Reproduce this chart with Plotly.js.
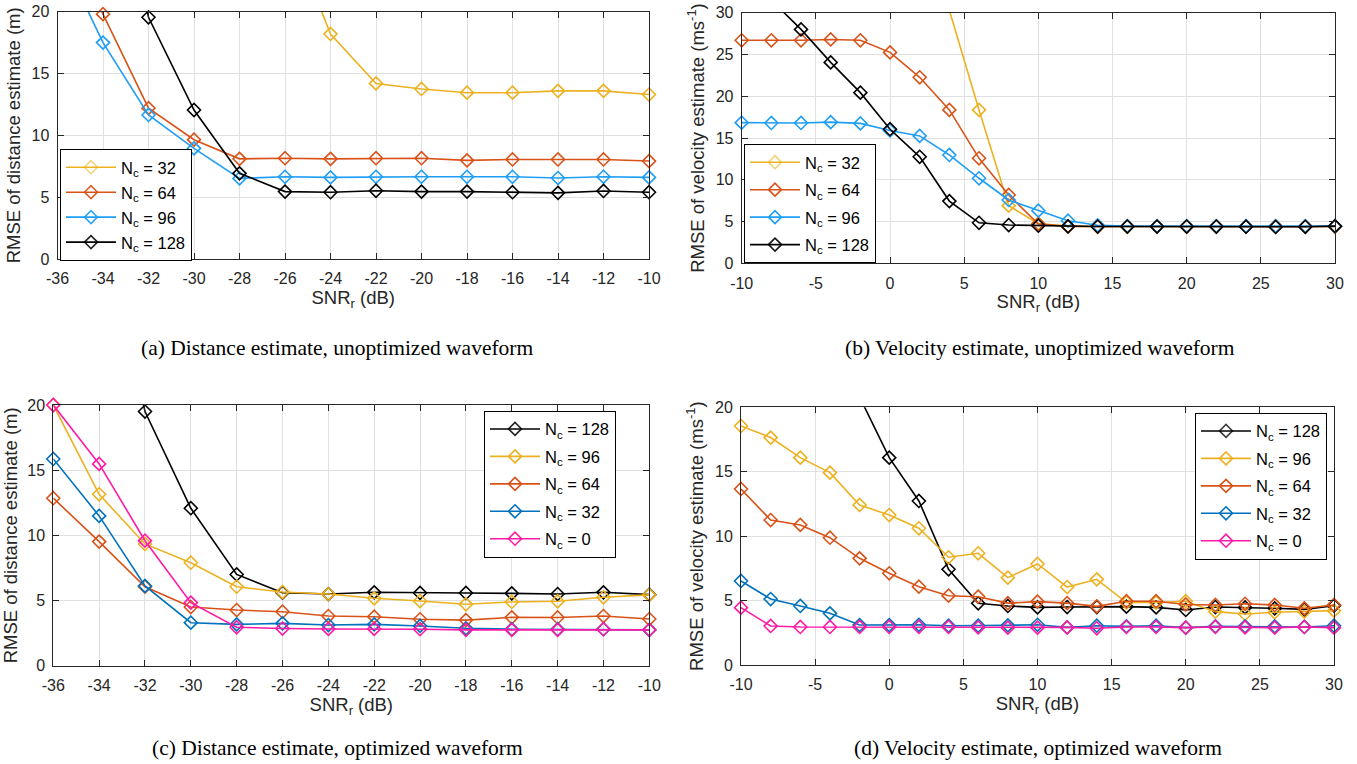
<!DOCTYPE html>
<html>
<head>
<meta charset="utf-8">
<script src="https://cdn.plot.ly/plotly-3.0.1.min.js"></script>
<style>
html,body{margin:0;padding:0;background:#ffffff;}
#chart{width:1357px;height:764px;}
</style>
</head>
<body>
<div id="chart"></div>
<script>
// ---------- data ----------
// SNR axes (dB)
const snrDist = [-36,-34,-32,-30,-28,-26,-24,-22,-20,-18,-16,-14,-12,-10];
const snrVel  = [-10,-8,-6,-4,-2,0,2,4,6,8,10,12,14,16,18,20,22,24,26,28,30];

// tick values / labels
const distTickVals = [-36,-34,-32,-30,-28,-26,-24,-22,-20,-18,-16,-14,-12,-10];
const distTickText = ['-36','-34','-32','-30','-28','-26','-24','-22','-20','-18','-16','-14','-12','-10'];
const velTickVals  = [-10,-5,0,5,10,15,20,25,30];
const velTickText  = ['-10','-5','0','5','10','15','20','25','30'];
const y20TickVals  = [0,5,10,15,20];
const y30TickVals  = [0,5,10,15,20,25,30];

// (a) distance, unoptimized waveform
const a_nc32  = [null,null,null,null,null,27.5,18.2,14.2,13.75,13.45,13.45,13.6,13.6,13.3];
const a_nc64  = [28,19.8,12.2,9.65,8.1,8.15,8.1,8.15,8.15,7.98,8.05,8.05,8.05,7.92];
const a_nc96  = [25.2,17.5,11.65,8.95,6.52,6.65,6.6,6.65,6.65,6.65,6.65,6.55,6.65,6.6];
const a_nc128 = [null,36,19.55,12.05,6.93,5.45,5.4,5.52,5.45,5.45,5.4,5.35,5.5,5.4];

// (b) velocity, unoptimized waveform
const b_nc32  = [null,null,null,null,null,null,40,30.3,18.36,6.9,4.75,4.45,4.4,4.4,4.4,4.4,4.4,4.4,4.4,4.4,4.4];
const b_nc64  = [26.7,26.7,26.7,26.8,26.7,25.25,22.27,18.36,12.57,8.18,4.7,4.42,4.4,4.4,4.4,4.4,4.4,4.4,4.4,4.4,4.4];
const b_nc96  = [16.84,16.8,16.8,16.9,16.75,15.9,15.25,12.97,10.18,7.58,6.3,5.1,4.55,4.45,4.45,4.45,4.45,4.45,4.45,4.45,4.45];
const b_nc128 = [35,31.5,28.0,24.05,20.43,16.05,12.75,7.45,4.85,4.58,4.5,4.42,4.4,4.4,4.4,4.4,4.4,4.38,4.35,4.37,4.45];

// (c) distance, optimized waveform
const c_nc128 = [null,36,19.5,12.08,7.0,5.6,5.5,5.63,5.58,5.58,5.55,5.5,5.63,5.45];
const c_nc96  = [20.0,13.15,9.34,7.9,6.06,5.65,5.5,5.17,4.96,4.71,4.89,4.94,5.25,5.43];
const c_nc64  = [12.85,9.52,6.06,4.5,4.27,4.14,3.81,3.76,3.56,3.5,3.71,3.7,3.81,3.58];
const c_nc32  = [15.86,11.49,6.12,3.3,3.17,3.25,3.12,3.17,3.05,2.87,2.8,2.8,2.8,2.75];
const c_nc0   = [20.0,15.48,9.59,4.84,2.95,2.85,2.82,2.82,2.8,2.75,2.75,2.75,2.8,2.75];

// (d) velocity, optimized waveform
const d_nc128 = [null,null,null,26,20.8,16.09,12.73,7.43,4.79,4.58,4.47,4.5,4.5,4.53,4.47,4.27,4.5,4.47,4.4,4.32,4.6];
const d_nc96  = [18.55,17.65,16.09,14.93,12.42,11.64,10.61,8.36,8.67,6.78,7.84,6.05,6.65,4.85,4.85,4.95,4.14,3.96,4.09,4.14,4.22];
const d_nc64  = [13.66,11.25,10.87,9.88,8.28,7.12,6.08,5.38,5.3,4.8,4.92,4.8,4.55,4.95,4.95,4.7,4.66,4.75,4.66,4.4,4.66];
const d_nc32  = [6.52,5.12,4.58,4.01,3.1,3.1,3.12,3.05,3.05,3.08,3.12,2.92,3.05,3.0,3.05,2.9,3.0,3.0,3.0,2.95,3.05];
const d_nc0   = [4.45,3.03,2.95,2.95,2.95,2.95,2.95,2.95,2.92,2.9,2.9,2.92,2.85,2.95,2.95,2.9,2.95,2.92,2.9,2.95,2.9];

const names = {n128:'N<sub>c</sub> = 128', n96:'N<sub>c</sub> = 96', n64:'N<sub>c</sub> = 64', n32:'N<sub>c</sub> = 32', n0:'N<sub>c</sub> = 0'};
const captions = ['(a) Distance estimate, unoptimized waveform','(b) Velocity estimate, unoptimized waveform',
                  '(c) Distance estimate, optimized waveform','(d) Velocity estimate, optimized waveform'];

// ---------- styles ----------
const COL = {yellow:'#EDB120', orange:'#D95319', lblue:'#1F9EF5', blue:'#0072BD', black:'#000000', pink:'#FF1AA6'};
const SANS = 'Liberation Sans, Arial, Helvetica, sans-serif';
const SERIF = 'Liberation Serif, Times New Roman, serif';
const AX = '#262626';

function tr(x, y, name, color, xa, ya, leg, ymax, grp) {
  return {
    type:'scatter', mode:'lines+markers', x:x, y:y, name:name,
    xaxis:xa, yaxis:ya, legend:leg, legendgroup:grp,
    line:{color:color, width:1.6},
    marker:{symbol:'diamond-open', size:10, color:color, line:{color:color, width:1.6},
            opacity:y.map(v => (v === null || v > ymax) ? 0 : 1)},
    cliponaxis:false, connectgaps:false, hoverinfo:'skip'
  };
}

const traces = [
  tr(snrDist,a_nc32,names.n32,COL.yellow,'x','y','legend',20,'a1'),
  tr(snrDist,a_nc64,names.n64,COL.orange,'x','y','legend',20,'a2'),
  tr(snrDist,a_nc96,names.n96,COL.lblue,'x','y','legend',20,'a3'),
  tr(snrDist,a_nc128,names.n128,COL.black,'x','y','legend',20,'a4'),

  tr(snrVel,b_nc32,names.n32,COL.yellow,'x2','y2','legend2',30,'b1'),
  tr(snrVel,b_nc64,names.n64,COL.orange,'x2','y2','legend2',30,'b2'),
  tr(snrVel,b_nc96,names.n96,COL.lblue,'x2','y2','legend2',30,'b3'),
  tr(snrVel,b_nc128,names.n128,COL.black,'x2','y2','legend2',30,'b4'),

  tr(snrDist,c_nc128,names.n128,COL.black,'x3','y3','legend3',20,'c1'),
  tr(snrDist,c_nc96,names.n96,COL.yellow,'x3','y3','legend3',20,'c2'),
  tr(snrDist,c_nc64,names.n64,COL.orange,'x3','y3','legend3',20,'c3'),
  tr(snrDist,c_nc32,names.n32,COL.blue,'x3','y3','legend3',20,'c4'),
  tr(snrDist,c_nc0,names.n0,COL.pink,'x3','y3','legend3',20,'c5'),

  tr(snrVel,d_nc128,names.n128,COL.black,'x4','y4','legend4',20,'d1'),
  tr(snrVel,d_nc96,names.n96,COL.yellow,'x4','y4','legend4',20,'d2'),
  tr(snrVel,d_nc64,names.n64,COL.orange,'x4','y4','legend4',20,'d3'),
  tr(snrVel,d_nc32,names.n32,COL.blue,'x4','y4','legend4',20,'d4'),
  tr(snrVel,d_nc0,names.n0,COL.pink,'x4','y4','legend4',20,'d5')
];

const W = 1357, H = 764;
function px(x){ return x / W; }
function py(y){ return 1 - y / H; }

function axis(dom, anchor, range, vals, text, title, isX) {
  return {
    domain:dom, anchor:anchor, range:range,
    tickmode:'array', tickvals:vals, ticktext:text,
    showline:true, mirror:'ticks', linecolor:AX, linewidth:1,
    ticks:'inside', ticklen:6, tickcolor:AX, tickwidth:1,
    showgrid:true, gridcolor:'#e0e0e0', gridwidth:1, zeroline:false,
    tickfont:{family:SANS, size:16, color:AX},
    ticklabelstandoff: isX ? 5 : 4,
    title:{text:title, font:{family:SANS, size:18.5, color:AX}, standoff: isX ? 4 : 6},
    fixedrange:true, automargin:false
  };
}

const snrTitle = 'SNR<sub>r</sub> (dB)';
const distTitle = 'RMSE of distance estimate (m)';
const velTitle = 'RMSE of velocity estimate (ms<sup>-1</sup>)';

function legend(x, y, gap) {
  return {x:x, y:y, xanchor:'left', yanchor:'top', xref:'paper', yref:'paper',
          bgcolor:'#ffffff', bordercolor:'#000000', borderwidth:1,
          font:{family:SANS, size:16.5, color:'#000000'},
          tracegroupgap:gap, itemwidth:50, traceorder:'grouped'};
}

const layout = {
  width:W, height:H, margin:{l:0,r:0,t:0,b:0},
  paper_bgcolor:'#ffffff', plot_bgcolor:'#ffffff', showlegend:true,
  font:{family:SANS, color:AX},
  xaxis: axis([px(57.5),px(649)], 'y', [-36,-10], distTickVals, distTickText, snrTitle, true),
  yaxis: axis([py(259),py(11.7)], 'x', [0,20], y20TickVals, y20TickVals.map(String), distTitle, false),
  xaxis2: axis([px(741.7),px(1335)], 'y2', [-10,30], velTickVals, velTickText, snrTitle, true),
  yaxis2: axis([py(263.3),py(12.7)], 'x2', [0,30], y30TickVals, y30TickVals.map(String), velTitle, false),
  xaxis3: axis([px(53.3),px(649.3)], 'y3', [-36,-10], distTickVals, distTickText, snrTitle, true),
  yaxis3: axis([py(665.7),py(405)], 'x3', [0,20], y20TickVals, y20TickVals.map(String), distTitle, false),
  xaxis4: axis([px(741),px(1334)], 'y4', [-10,30], velTickVals, velTickText, snrTitle, true),
  yaxis4: axis([py(665),py(407.3)], 'x4', [0,20], y20TickVals, y20TickVals.map(String), velTitle, false),
  legend: legend(px(60), py(149), 0.5),
  legend2: legend(px(744), py(144), 3),
  legend3: legend(px(484), py(410.7), 3),
  legend4: legend(px(1195), py(412.7), 3),
  annotations: [
    {text:captions[0], x:px(337), y:py(348), xref:'paper', yref:'paper', showarrow:false, xanchor:'center', yanchor:'middle', font:{family:SERIF, size:21.5, color:'#000'}},
    {text:captions[1], x:px(1040), y:py(348), xref:'paper', yref:'paper', showarrow:false, xanchor:'center', yanchor:'middle', font:{family:SERIF, size:21.5, color:'#000'}},
    {text:captions[2], x:px(337), y:py(748), xref:'paper', yref:'paper', showarrow:false, xanchor:'center', yanchor:'middle', font:{family:SERIF, size:21.5, color:'#000'}},
    {text:captions[3], x:px(1038), y:py(748), xref:'paper', yref:'paper', showarrow:false, xanchor:'center', yanchor:'middle', font:{family:SERIF, size:21.5, color:'#000'}}
  ]
};

Plotly.newPlot('chart', traces, layout, {staticPlot:true, displayModeBar:false});
</script>
</body>
</html>
